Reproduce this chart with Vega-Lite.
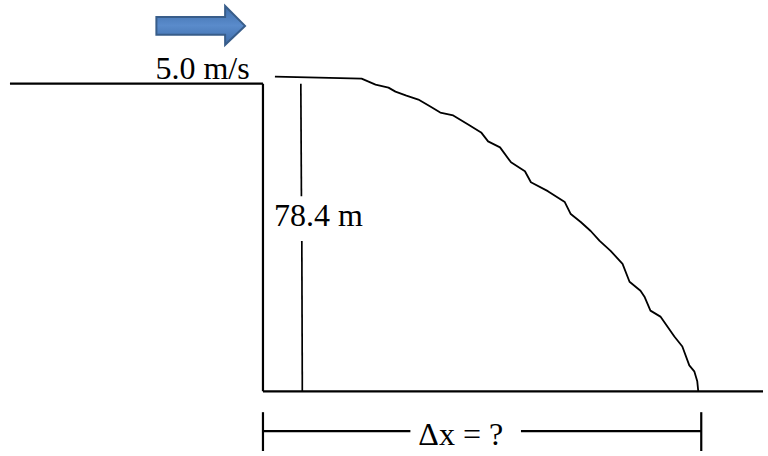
{
  "$schema": "https://vega.github.io/schema/vega-lite/v6.json",
  "width": 768,
  "height": 456,
  "autosize": {"type": "fit", "contains": "padding"},
  "padding": 0,
  "background": "white",
  "config": {"view": {"stroke": null}},
  "datasets": {
    "segs": [
      {"seg": "cliffTop", "i": 0, "x": 10, "y": 84},
      {"seg": "cliffTop", "i": 1, "x": 264, "y": 84},
      {"seg": "cliffWall", "i": 0, "x": 264, "y": 84},
      {"seg": "cliffWall", "i": 1, "x": 264, "y": 393},
      {"seg": "ground", "i": 0, "x": 264, "y": 393},
      {"seg": "ground", "i": 1, "x": 766, "y": 393},
      {"seg": "dimLeft", "i": 0, "x": 264, "y": 433},
      {"seg": "dimLeft", "i": 1, "x": 412, "y": 433},
      {"seg": "dimRight", "i": 0, "x": 523, "y": 433},
      {"seg": "dimRight", "i": 1, "x": 704, "y": 433},
      {"seg": "tickLeft", "i": 0, "x": 264, "y": 414},
      {"seg": "tickLeft", "i": 1, "x": 264, "y": 453},
      {"seg": "tickRight", "i": 0, "x": 704, "y": 414},
      {"seg": "tickRight", "i": 1, "x": 704, "y": 453}
    ],
    "height": [
      {"seg": "upper", "i": 0, "x": 302, "y": 84},
      {"seg": "upper", "i": 1, "x": 302.6, "y": 197},
      {"seg": "lower", "i": 0, "x": 303, "y": 242},
      {"seg": "lower", "i": 1, "x": 303.5, "y": 393}
    ],
    "traj": [
      {"i": 0, "x": 276, "y": 77},
      {"i": 1, "x": 320, "y": 78},
      {"i": 2, "x": 363, "y": 79},
      {"i": 3, "x": 370, "y": 82},
      {"i": 4, "x": 377, "y": 85},
      {"i": 5, "x": 390, "y": 88},
      {"i": 6, "x": 397, "y": 92},
      {"i": 7, "x": 408, "y": 96},
      {"i": 8, "x": 420, "y": 100},
      {"i": 9, "x": 432, "y": 107},
      {"i": 10, "x": 442, "y": 113},
      {"i": 11, "x": 455, "y": 116},
      {"i": 12, "x": 470, "y": 125},
      {"i": 13, "x": 483, "y": 133},
      {"i": 14, "x": 490, "y": 142},
      {"i": 15, "x": 502, "y": 148},
      {"i": 16, "x": 513, "y": 163},
      {"i": 17, "x": 527, "y": 172},
      {"i": 18, "x": 533, "y": 183},
      {"i": 19, "x": 550, "y": 192},
      {"i": 20, "x": 567, "y": 203},
      {"i": 21, "x": 573, "y": 215},
      {"i": 22, "x": 583, "y": 223},
      {"i": 23, "x": 593, "y": 232},
      {"i": 24, "x": 602, "y": 242},
      {"i": 25, "x": 613, "y": 252},
      {"i": 26, "x": 625, "y": 265},
      {"i": 27, "x": 632, "y": 283},
      {"i": 28, "x": 643, "y": 292},
      {"i": 29, "x": 647, "y": 298},
      {"i": 30, "x": 653, "y": 312},
      {"i": 31, "x": 663, "y": 318},
      {"i": 32, "x": 677, "y": 338},
      {"i": 33, "x": 685, "y": 348},
      {"i": 34, "x": 692, "y": 367},
      {"i": 35, "x": 697, "y": 373},
      {"i": 36, "x": 700, "y": 383},
      {"i": 37, "x": 701, "y": 393}
    ],
    "arrow": [
      {"x": 157, "y": 17, "y2": 35},
      {"x": 226, "y": 17, "y2": 35},
      {"x": 226.01, "y": 6, "y2": 45},
      {"x": 246, "y": 26, "y2": 26}
    ],
    "labels": [
      {"label": "5.0 m/s", "x": 156, "y": 79},
      {"label": "78.4 m", "x": 275, "y": 227},
      {"label": "Δx = ?", "x": 420, "y": 447}
    ]
  },
  "layer": [
    {
      "data": {"name": "segs"},
      "mark": {"type": "line", "color": "black", "strokeWidth": 2.2, "strokeCap": "butt"},
      "encoding": {
        "x": {"field": "x", "type": "quantitative", "scale": {"domain": [0, 768], "nice": false, "zero": false}, "axis": null},
        "y": {"field": "y", "type": "quantitative", "scale": {"domain": [0, 456], "nice": false, "zero": false, "reverse": true}, "axis": null},
        "detail": {"field": "seg"},
        "order": {"field": "i"}
      }
    },
    {
      "data": {"name": "height"},
      "mark": {"type": "line", "color": "black", "strokeWidth": 1.7, "strokeCap": "butt"},
      "encoding": {
        "x": {"field": "x", "type": "quantitative"},
        "y": {"field": "y", "type": "quantitative"},
        "detail": {"field": "seg"},
        "order": {"field": "i"}
      }
    },
    {
      "data": {"name": "traj"},
      "mark": {"type": "line", "color": "black", "strokeWidth": 1.8, "interpolate": "linear", "strokeJoin": "round"},
      "encoding": {
        "x": {"field": "x", "type": "quantitative"},
        "y": {"field": "y", "type": "quantitative"},
        "order": {"field": "i"}
      }
    },
    {
      "data": {"name": "arrow"},
      "mark": {
        "type": "area",
        "orient": "vertical",
        "stroke": "#385D8A",
        "strokeWidth": 2,
        "strokeJoin": "miter",
        "fillOpacity": 1,
        "fill": {
          "gradient": "linear",
          "x1": 0, "y1": 0, "x2": 0, "y2": 1,
          "stops": [
            {"offset": 0, "color": "#3E6DAA"},
            {"offset": 0.5, "color": "#5A8BCB"},
            {"offset": 1, "color": "#3E6DAA"}
          ]
        }
      },
      "encoding": {
        "x": {"field": "x", "type": "quantitative"},
        "y": {"field": "y", "type": "quantitative"},
        "y2": {"field": "y2"}
      }
    },
    {
      "data": {"name": "labels"},
      "mark": {"type": "text", "font": "Liberation Serif", "fontSize": 32, "align": "left", "baseline": "alphabetic", "color": "black"},
      "encoding": {
        "x": {"field": "x", "type": "quantitative"},
        "y": {"field": "y", "type": "quantitative"},
        "text": {"field": "label"}
      }
    }
  ]
}
